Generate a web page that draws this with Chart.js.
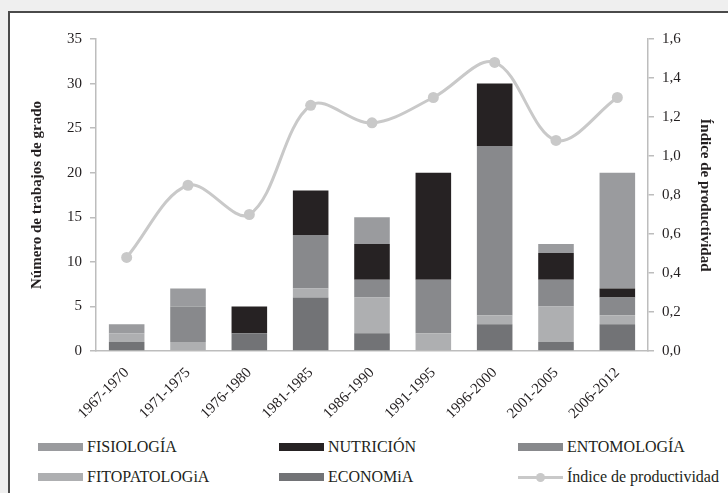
<!DOCTYPE html>
<html>
<head>
<meta charset="utf-8">
<script src="https://cdn.jsdelivr.net/npm/chart.js@4.4.0/dist/chart.umd.min.js"></script>
<style>
  body { margin: 0; background: #efefef; width: 728px; height: 493px; overflow: hidden; position: relative; font-family: "Liberation Serif", "Times New Roman", serif; }
  #frame { position: absolute; left: 8px; top: 11px; width: 800px; height: 600px; background: #fff; border: 2px solid #4a4a4a; }
  #wrap { position: absolute; left: 0; top: 0; width: 728px; height: 425px; }
  .lg { position: absolute; font-size: 16px; color: #231f20; white-space: nowrap; line-height: 18px; }
  .sw { position: absolute; height: 8px; width: 45px; }
</style>
</head>
<body>
<div id="frame"></div>
<div id="wrap"><canvas id="myChart"></canvas></div>
<div id="legend"></div>
<script>
// data
const categories = ["1967-1970","1971-1975","1976-1980","1981-1985","1986-1990","1991-1995","1996-2000","2001-2005","2006-2012"];
const economia      = [1, 0, 2, 6, 2, 0, 3, 1, 3];
const fitopatologia = [1, 1, 0, 1, 4, 2, 1, 4, 1];
const entomologia   = [0, 4, 0, 6, 2, 6, 19, 3, 2];
const nutricion     = [0, 0, 3, 5, 4, 12, 7, 3, 1];
const fisiologia    = [1, 2, 0, 0, 3, 0, 0, 1, 13];
const indice        = [0.48, 0.85, 0.70, 1.26, 1.17, 1.30, 1.48, 1.08, 1.30];

const leftTicks = [0, 5, 10, 15, 20, 25, 30, 35];
const rightTicks = [0, 0.2, 0.4, 0.6, 0.8, 1.0, 1.2, 1.4, 1.6];

const colors = {
    fisio: "#9a9b9e",
    nutr: "#262223",
    ento: "#88898c",
    fito: "#aeafb1",
    eco: "#727376",
    line: "#c9c9c9"
};

const serif = '"Liberation Serif", "Times New Roman", serif';
const txt = "#231f20";
const axisGray = "#bdbdbd";

function bar(label, data, color) {
    return { type: "bar", label: label, data: data, backgroundColor: color, yAxisID: "y", stack: "s",
             barPercentage: 0.58, categoryPercentage: 1.0 };
}

new Chart(document.getElementById("myChart"), {
    data: {
        labels: categories,
        datasets: [
            { type: "line", label: "Índice de productividad", data: indice, yAxisID: "y1",
              borderColor: colors.line, backgroundColor: colors.line, borderWidth: 3,
              pointRadius: 5.5, pointBackgroundColor: colors.line, pointBorderWidth: 0,
              tension: 0.35, cubicInterpolationMode: "default" },
            bar("ECONOMÍA", economia, colors.eco),
            bar("FITOPATOLOGÍA", fitopatologia, colors.fito),
            bar("ENTOMOLOGÍA", entomologia, colors.ento),
            bar("NUTRICIÓN", nutricion, colors.nutr),
            bar("FISIOLOGÍA", fisiologia, colors.fisio)
        ]
    },
    options: {
        responsive: true,
        maintainAspectRatio: false,
        animation: false,
        layout: { padding: { top: 39, left: 0, right: 0, bottom: 0 } },
        plugins: { legend: { display: false }, tooltip: { enabled: false } },
        scales: {
            x: {
                stacked: true,
                grid: { drawOnChartArea: false, drawTicks: false },
                border: { color: axisGray, width: 1.5 },
                ticks: { color: txt, font: { family: serif, size: 15 }, minRotation: 45, maxRotation: 45, padding: 13 },
                afterFit: function (s) { s.height = 74; }
            },
            y: {
                position: "left",
                stacked: true,
                min: 0, max: 35,
                afterBuildTicks: function (s) { s.ticks = leftTicks.map(v => ({ value: v })); },
                grid: { drawOnChartArea: false, tickLength: 6, color: axisGray, lineWidth: 1.5 },
                border: { color: axisGray, width: 1.5 },
                ticks: { color: txt, font: { family: serif, size: 15 }, padding: 8 },
                title: { display: true, text: "Número de trabajos de grado", color: txt,
                         font: { family: serif, size: 15, weight: "bold" }, padding: { top: 28, bottom: 0 } },
                afterFit: function (s) { s.width = 96; }
            },
            y1: {
                position: "right",
                min: 0, max: 1.6,
                afterBuildTicks: function (s) { s.ticks = rightTicks.map(v => ({ value: v })); },
                grid: { drawOnChartArea: false, tickLength: 6, color: axisGray, lineWidth: 1.5 },
                border: { color: axisGray, width: 1.5 },
                ticks: { color: txt, font: { family: serif, size: 15 }, padding: 8,
                         callback: function (v) { return v.toFixed(1).replace(".", ","); } },
                title: { display: true, text: "Índice de productividad", color: txt,
                         font: { family: serif, size: 15, weight: "bold" }, padding: { top: 14, bottom: 0 } },
                afterFit: function (s) { s.width = 80; }
            }
        }
    }
});

// legend (3 columns, 2 rows) built from the same labels/colours
const legendItems = [
    { label: "FISIOLOGÍA", color: colors.fisio, col: 0, row: 0 },
    { label: "NUTRICIÓN", color: colors.nutr, col: 1, row: 0 },
    { label: "ENTOMOLOGÍA", color: colors.ento, col: 2, row: 0 },
    { label: "FITOPATOLOGiA", color: colors.fito, col: 0, row: 1 },
    { label: "ECONOMiA", color: colors.eco, col: 1, row: 1 },
    { label: "Índice de productividad", color: colors.line, col: 2, row: 1, line: true }
];
const colX = [38, 279, 518];
const rowY = [447, 477];
const lg = document.getElementById("legend");
legendItems.forEach(function (it) {
    const x = colX[it.col], y = rowY[it.row];
    if (it.line) {
        const l = document.createElement("div");
        l.style.cssText = "position:absolute;left:" + x + "px;top:" + (y - 1.5) + "px;width:45px;height:3px;background:" + it.color;
        lg.appendChild(l);
        const d = document.createElement("div");
        d.style.cssText = "position:absolute;left:" + (x + 18) + "px;top:" + (y - 4.5) + "px;width:9px;height:9px;border-radius:50%;background:" + it.color;
        lg.appendChild(d);
    } else {
        const s = document.createElement("div");
        s.className = "sw";
        s.style.left = x + "px";
        s.style.top = (y - 4) + "px";
        s.style.background = it.color;
        lg.appendChild(s);
    }
    const t = document.createElement("div");
    t.className = "lg";
    t.textContent = it.label;
    t.style.left = (x + 49) + "px";
    t.style.top = (y - 9) + "px";
    lg.appendChild(t);
});
</script>
</body>
</html>
